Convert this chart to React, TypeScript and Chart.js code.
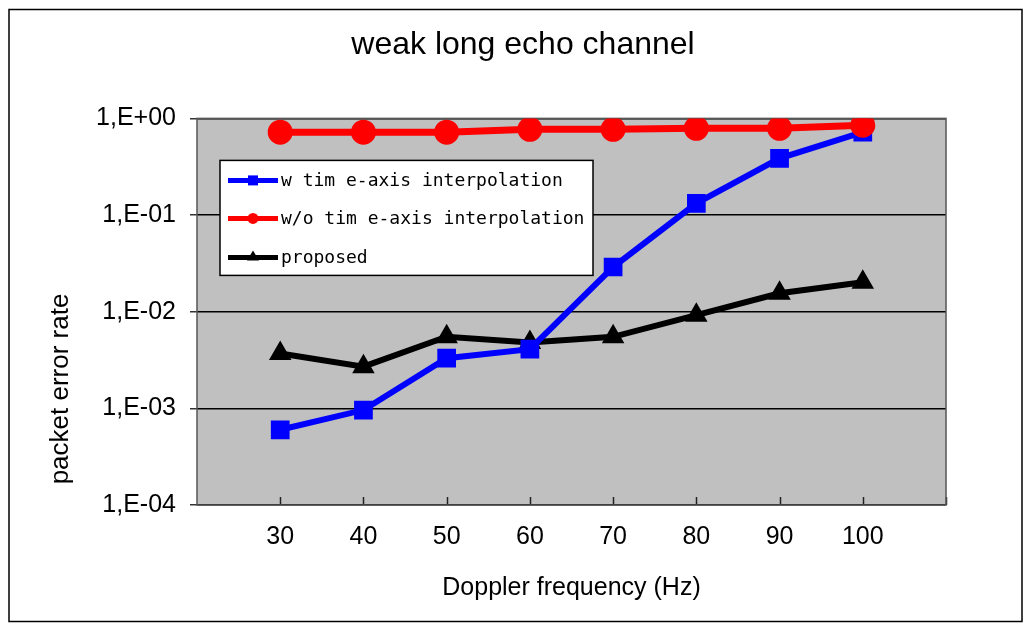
import React, { useEffect, useRef } from "react";
import { Chart, registerables } from "chart.js";

Chart.register(...registerables);

// ---- data ----
const chartTitle = "weak long echo channel";
const xAxisTitle = "Doppler frequency (Hz)";
const yAxisTitle = "packet error rate";
const dopplerHz = [30, 40, 50, 60, 70, 80, 90, 100];
const xTickValues = [20, 30, 40, 50, 60, 70, 80, 90, 100, 110];
const yTickValues = [1e-4, 1e-3, 1e-2, 1e-1, 1];
const seriesLabels = ["w tim e-axis interpolation", "w/o tim e-axis interpolation", "proposed"];
const withInterp = [6.0e-4, 9.6e-4, 3.3e-3, 4.1e-3, 2.9e-2, 0.132, 0.386, 0.72];
const withoutInterp = [0.72, 0.72, 0.72, 0.77, 0.77, 0.79, 0.79, 0.85];
const proposed = [3.7e-3, 2.7e-3, 5.5e-3, 4.8e-3, 5.5e-3, 9.2e-3, 0.0155, 0.0202];

const FONT = "'Liberation Sans', Arial, sans-serif";
const LEGEND_FONT = "'DejaVu Sans Mono', monospace";

function fmtTick(v: number): string {
  const e = Math.round(Math.log10(v));
  return `1,E${e >= 0 ? "+" : "-"}${String(Math.abs(e)).padStart(2, "0")}`;
}

const framePlugin = {
  id: "frame",
  beforeDraw(chart: any) {
    const { ctx, width, height, chartArea } = chart;
    ctx.save();
    ctx.fillStyle = "#ffffff";
    ctx.fillRect(0, 0, width, height);
    ctx.strokeStyle = "#000000";
    ctx.lineWidth = 1.5;
    ctx.strokeRect(1, 1.5, width - 2, height - 3);
    ctx.fillStyle = "#c0c0c0";
    ctx.fillRect(chartArea.left, chartArea.top, chartArea.right - chartArea.left, chartArea.bottom - chartArea.top);
    ctx.restore();
  },
  beforeDatasetsDraw(chart: any) {
    const { ctx, chartArea } = chart;
    const xs = chart.scales.x;
    ctx.save();
    ctx.strokeStyle = "#222222";
    ctx.lineWidth = 1.5;
    for (const v of xTickValues.slice(1)) {
      const px = Math.round(xs.getPixelForValue(v)) + 0.5;
      ctx.beginPath();
      ctx.moveTo(px, chartArea.bottom);
      ctx.lineTo(px, chartArea.bottom - 8);
      ctx.stroke();
    }
    ctx.strokeStyle = "#555555";
    ctx.lineWidth = 1.5;
    ctx.strokeRect(chartArea.left, chartArea.top, chartArea.right - chartArea.left, chartArea.bottom - chartArea.top);
    ctx.restore();
  },
};

const yTitlePlugin = {
  id: "yTitle",
  afterDraw(chart: any) {
    const { ctx } = chart;
    ctx.save();
    ctx.translate(53, 381);
    ctx.rotate(-Math.PI / 2);
    ctx.font = `26px ${FONT}`;
    ctx.fillStyle = "#000";
    ctx.textAlign = "center";
    ctx.textBaseline = "middle";
    ctx.fillText(yAxisTitle, 0, 0);
    ctx.restore();
  },
};

const legendPlugin = {
  id: "boxLegend",
  afterDraw(chart: any) {
    const { ctx, chartArea } = chart;
    const left = chartArea.left + 23;
    const top = chartArea.top + 42;
    const w = 373;
    const h = 115;
    ctx.save();
    ctx.fillStyle = "#ffffff";
    ctx.fillRect(left, top, w, h);
    ctx.strokeStyle = "#000";
    ctx.lineWidth = 1.5;
    ctx.strokeRect(left, top, w, h);
    const rows = [20, 58, 97];
    chart.data.datasets.forEach((ds: any, i: number) => {
      const y = top + rows[i];
      ctx.strokeStyle = ds.borderColor;
      ctx.lineWidth = 5;
      ctx.beginPath();
      ctx.moveTo(left + 8, y);
      ctx.lineTo(left + 58, y);
      ctx.stroke();
      ctx.fillStyle = ds.backgroundColor;
      ctx.beginPath();
      if (ds.pointStyle === "rect") {
        ctx.rect(left + 33 - 5, y - 5, 10, 10);
      } else if (ds.pointStyle === "circle") {
        ctx.arc(left + 33, y, 5.5, 0, Math.PI * 2);
      } else {
        ctx.moveTo(left + 33, y - 7);
        ctx.lineTo(left + 39, y + 3);
        ctx.lineTo(left + 27, y + 3);
        ctx.closePath();
      }
      ctx.fill();
      ctx.fillStyle = "#000";
      ctx.font = `18px ${LEGEND_FONT}`;
      ctx.textAlign = "left";
      ctx.textBaseline = "middle";
      ctx.fillText(ds.label, left + 61, y + 1);
    });
    ctx.restore();
  },
};

export default function App() {
  const ref = useRef<HTMLCanvasElement | null>(null);
  useEffect(() => {
    if (!ref.current) return;
    const chart = new Chart(ref.current, {
      type: "line",
      data: {
        datasets: [
          {
            label: seriesLabels[0],
            data: dopplerHz.map((x, i) => ({ x, y: withInterp[i] })),
            borderColor: "#0000ff",
            backgroundColor: "#0000ff",
            borderWidth: 6,
            pointStyle: "rect",
            pointRadius: 9,
            pointHoverRadius: 9,
            order: 1,
          },
          {
            label: seriesLabels[1],
            data: dopplerHz.map((x, i) => ({ x, y: withoutInterp[i] })),
            borderColor: "#ff0000",
            backgroundColor: "#ff0000",
            borderWidth: 7,
            pointStyle: "circle",
            pointRadius: 9,
            pointHoverRadius: 9,
            order: 0,
          },
          {
            label: seriesLabels[2],
            data: dopplerHz.map((x, i) => ({ x, y: proposed[i] })),
            borderColor: "#000000",
            backgroundColor: "#000000",
            borderWidth: 6,
            pointStyle: "triangle",
            pointRadius: 7,
            pointHoverRadius: 7,
            order: 2,
          },
        ],
      },
      options: {
        responsive: false,
        animation: false,
        devicePixelRatio: 1,
        layout: { padding: { left: 15, right: 0, top: 0, bottom: 0 } },
        plugins: {
          legend: { display: false },
          tooltip: { enabled: false },
          title: {
            display: true,
            text: chartTitle,
            color: "#000",
            font: { family: FONT, size: 32, weight: "normal" },
            padding: { top: 18, bottom: 54 },
          },
        },
        scales: {
          x: {
            type: "linear",
            min: 20,
            max: 110,
            afterBuildTicks: (s: any) => {
              s.ticks = xTickValues.map((v) => ({ value: v }));
            },
            afterFit: (s: any) => {
              s.height = 118;
            },
            ticks: {
              autoSkip: false,
              maxRotation: 0,
              color: "#000",
              font: { family: FONT, size: 25 },
              padding: 17,
              callback: (v: any) => (v >= 30 && v <= 100 ? String(v) : ""),
            },
            grid: { display: false, drawTicks: false },
            border: { display: false },
            title: {
              display: true,
              text: xAxisTitle,
              color: "#000",
              font: { family: FONT, size: 25 },
              padding: { top: 0, bottom: 20 },
            },
          },
          y: {
            type: "logarithmic",
            min: 1e-4,
            max: 1,
            position: "left",
            afterBuildTicks: (s: any) => {
              s.ticks = yTickValues.map((v) => ({ value: v }));
            },
            afterFit: (s: any) => {
              s.width = 174;
            },
            ticks: {
              autoSkip: false,
              color: "#000",
              font: { family: FONT, size: 25 },
              padding: 14,
              callback: (v: any) => fmtTick(Number(v)),
            },
            grid: {
              color: "#000",
              lineWidth: 1.5,
              tickLength: 7,
              tickColor: "#333",
              drawTicks: true,
            },
            border: { display: false },
          },
          y2: {
            type: "linear",
            position: "right",
            display: true,
            ticks: { display: false },
            grid: { display: false, drawTicks: false },
            border: { display: false },
            afterFit: (s: any) => {
              s.width = 77;
            },
          },
        },
      },
      plugins: [framePlugin, yTitlePlugin, legendPlugin],
    } as any);
    return () => chart.destroy();
  }, []);
  return (
    <canvas ref={ref} width={1015} height={615} style={{ display: "block" }} />
  );
}
